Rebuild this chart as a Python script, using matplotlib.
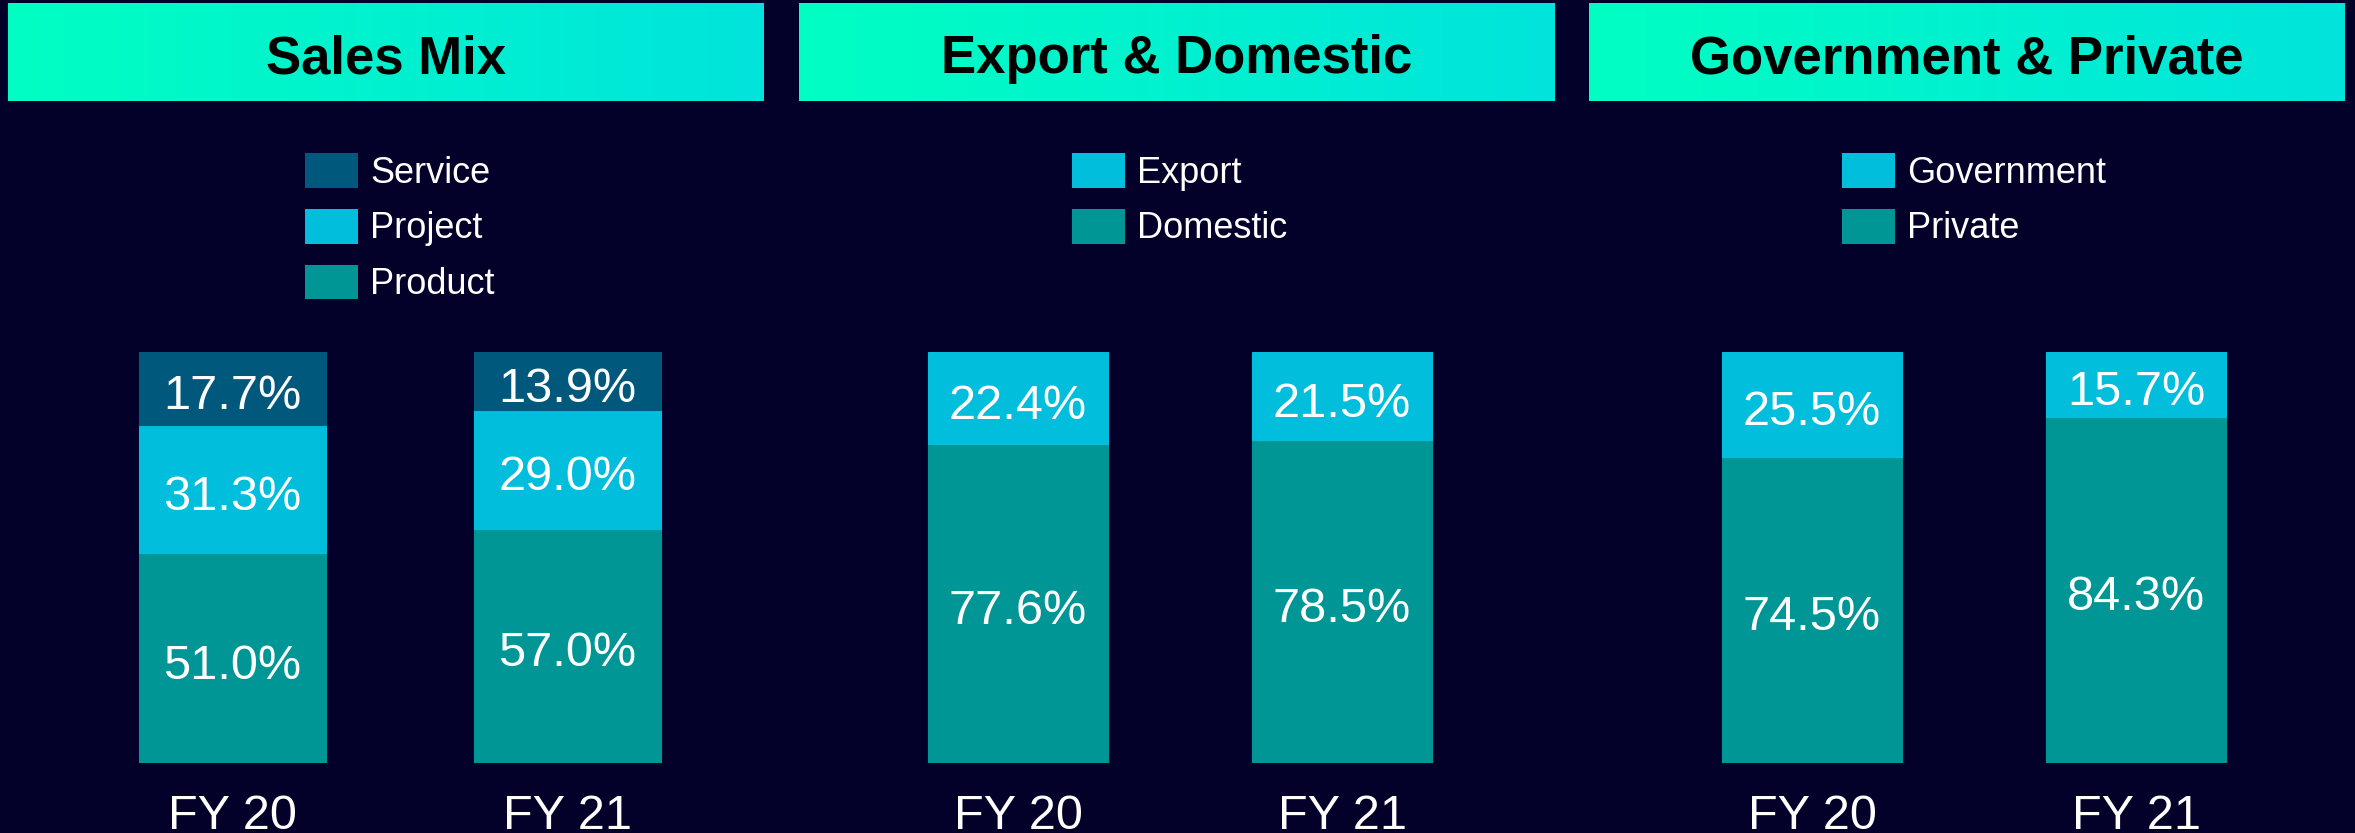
import matplotlib
matplotlib.use('Agg')
import matplotlib.pyplot as plt
import numpy as np
from matplotlib.patches import Patch

plt.rcParams['font.family'] = ['Liberation Sans', 'DejaVu Sans']

# ---------------- data ----------------
years = ['FY 20', 'FY 21']
titles = ['Sales Mix', 'Export & Domestic', 'Government & Private']

sales_product = [51.0, 57.0]
sales_project = [31.3, 29.0]
sales_service = [17.7, 13.9]

domestic = [77.6, 78.5]
export = [22.4, 21.5]

private = [74.5, 84.3]
government = [25.5, 15.7]

# ---------------- style ----------------
W, H, DPI = 2355, 833, 100
C_BG = '#03002A'
C_SERVICE = '#00587C'
C_PROJECT = '#00BEDC'
C_PRODUCT = '#009696'
GRAD_L = np.array([0, 255, 194]) / 255
GRAD_R = np.array([0, 228, 220]) / 255

fig = plt.figure(figsize=(W / DPI, H / DPI), dpi=DPI, facecolor=C_BG)


def px_axes(left, top, width, height, **kw):
    return fig.add_axes([left / W, 1 - (top + height) / H, width / W, height / H], **kw)


panels = [
    [('Product', sales_product, C_PRODUCT), ('Project', sales_project, C_PROJECT),
     ('Service', sales_service, C_SERVICE)],
    [('Domestic', domestic, C_PRODUCT), ('Export', export, C_PROJECT)],
    [('Private', private, C_PRODUCT), ('Government', government, C_PROJECT)],
]

# axes geometry (pixels): left, width, bar width (data units)
geom = [(65, 670, 0.558), (856, 648, 0.556), (1650, 648, 0.556)]
header_boxes = [(8, 756), (799, 756), (1589, 756)]

BAR_TOP, BAR_BOTTOM = 352, 763

for i, series in enumerate(panels):
    left, width, bw = geom[i]
    ax = px_axes(left, BAR_TOP, width, BAR_BOTTOM - BAR_TOP)
    ax.set_facecolor('none')
    x = np.arange(len(years))
    bottom = np.zeros(len(years))
    handles = []
    for name, vals, col in series:
        vals = np.array(vals)
        ax.bar(x, vals, bw, bottom=bottom, color=col, edgecolor=col, linewidth=0.8)
        for xi, b, v in zip(x, bottom, vals):
            ax.annotate(f'{v:.1f}%', (xi, b + v / 2), xytext=(0, -2.2),
                        textcoords='offset points', ha='center', va='center_baseline',
                        color='white', fontsize=35)
        bottom = bottom + vals
        handles.append(Patch(facecolor=col, edgecolor='none', label=name))
    ax.set_xlim(-0.5, 1.5)
    ax.set_ylim(0, 100)
    ax.set_xticks(x, years)
    ax.tick_params(axis='x', length=0, pad=22, labelsize=35, labelcolor='white')
    ax.set_yticks([])
    for s in ax.spines.values():
        s.set_visible(False)

    # legend, centred over the panel
    mid = left + width / 2
    fig.legend(handles=handles[::-1], loc='upper center',
               bbox_to_anchor=(mid / W, 1 - 153 / H), frameon=False,
               fontsize=26, labelcolor='white', handlelength=1.47, handleheight=1.11,
               handletextpad=0.33, labelspacing=0.5, borderpad=0, borderaxespad=0)

    # header box with gradient
    hx, hw = header_boxes[i]
    hax = px_axes(hx, 3, hw, 98)
    t = np.linspace(0, 1, 256)
    grad = GRAD_L[None, :] * (1 - t[:, None]) + GRAD_R[None, :] * t[:, None]
    hax.imshow(grad[None, :, :], aspect='auto', extent=(0, 1, 0, 1))
    hax.set_xlim(0, 1)
    hax.set_ylim(0, 1)
    hax.axis('off')
    hax.text(0.5, (101 - 73) / 98, titles[i], ha='center', va='baseline', fontsize=38,
             fontweight='bold', color='black')

fig.savefig('out.png', dpi=DPI, facecolor=C_BG)
